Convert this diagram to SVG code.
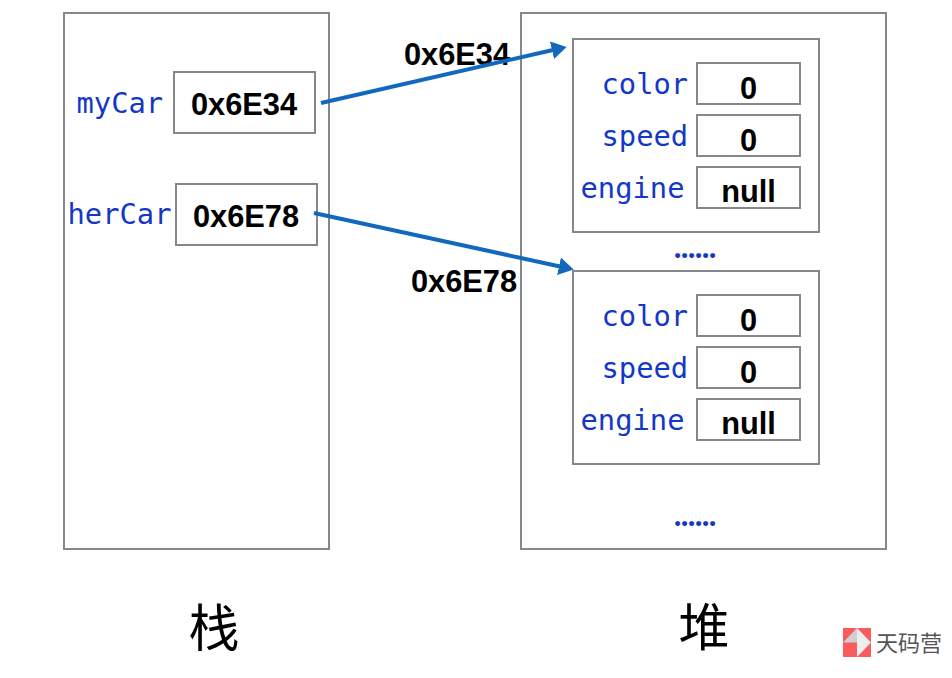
<svg xmlns="http://www.w3.org/2000/svg" width="952" height="678" viewBox="0 0 952 678">
  <style>
    .box { fill: #fff; stroke: #85888b; stroke-width: 2; }
    .name { font-family: "DejaVu Sans Mono", "Liberation Mono", monospace; font-size: 28.8px; fill: #1338c8; }
    .val { font-family: "Liberation Sans", Arial, sans-serif; font-weight: 700; font-size: 30.8px; fill: #000; text-anchor: middle; }
    .dots { font-family: Lato, "Noto Sans", sans-serif; font-weight: 900; font-size: 30px; fill: #1338c8; }
    .title { font-family: "Noto Sans CJK SC", sans-serif; font-size: 51px; font-weight: 400; fill: #000; text-anchor: middle; }
    .link { fill: none; stroke: #1268bd; stroke-width: 4; marker-end: url(#head); }
  </style>
  <defs>
    <marker id="head" markerUnits="userSpaceOnUse" markerWidth="18" markerHeight="20" refX="1" refY="9" orient="auto">
      <path d="M0 0 L15 9 L0 18 Z" fill="#1268bd"/>
    </marker>
  </defs>
  <rect width="952" height="678" fill="#fff"/>

  <g id="stack">
    <rect class="box" x="64" y="13" width="265" height="536"/>
    <text class="title" x="214" y="647">栈</text>
  </g>
  <g id="heap">
    <rect class="box" x="521" y="13" width="365" height="536"/>
    <text class="title" x="704" y="646">堆</text>
    <text class="dots" x="674 681 688 695 702 709" y="258">......</text>
    <text class="dots" x="674 681 688 695 702 709" y="526">......</text>
  </g>

  <g id="myCar">
    <text class="name" x="76.500" y="113">myCar</text>
    <rect class="box" x="174" y="72" width="141" height="61"/>
    <text class="val" x="244" y="115">0x6E34</text>
  </g>
  <g id="herCar">
    <text class="name" x="67.500" y="224">herCar</text>
    <rect class="box" x="176" y="184" width="141" height="61"/>
    <text class="val" x="246" y="227">0x6E78</text>
  </g>

  <g id="car1">
    <rect class="box" x="573" y="39" width="246" height="193"/>
    <text class="name" x="601.500" y="93.500">color</text>
    <rect class="box" x="697" y="63" width="103" height="41"/>
    <text class="val" x="748.500" y="98.500">0</text>
    <text class="name" x="601.500" y="145.500">speed</text>
    <rect class="box" x="697" y="115" width="103" height="41"/>
    <text class="val" x="748.500" y="150.500">0</text>
    <text class="name" x="580.500" y="197.500">engine</text>
    <rect class="box" x="697" y="167" width="103" height="41"/>
    <text class="val" x="748.500" y="202">null</text>
  </g>
  <g id="car2">
    <rect class="box" x="573" y="271" width="246" height="193"/>
    <text class="name" x="601.500" y="325.500">color</text>
    <rect class="box" x="697" y="295" width="103" height="41"/>
    <text class="val" x="748.500" y="330.500">0</text>
    <text class="name" x="601.500" y="377.500">speed</text>
    <rect class="box" x="697" y="347" width="103" height="41"/>
    <text class="val" x="748.500" y="382.500">0</text>
    <text class="name" x="580.500" y="429.500">engine</text>
    <rect class="box" x="697" y="399" width="103" height="41"/>
    <text class="val" x="748.500" y="434">null</text>
  </g>

  <g id="addr-labels">
    <text class="val" x="457" y="65">0x6E34</text>
    <text class="val" x="464" y="292">0x6E78</text>
  </g>

  <g id="connectors">
    <path class="link" d="M321 103 L553 50"/>
    <path class="link" d="M314 213 L560 266.500"/>
  </g>

  <g id="brand">
    <rect x="843" y="628" width="28" height="29" fill="#fb5a5e"/>
    <path d="M857 628 L871 642.500 L857 657 Z" fill="#eeeeee"/>
    <path d="M843 642.500 L857 628 L857 642.500 Z" fill="#cfcfcf"/>
    <text x="876" y="651" font-family="'Noto Sans CJK SC', sans-serif" font-size="22px" fill="#555">天码营</text>
  </g>
</svg>
